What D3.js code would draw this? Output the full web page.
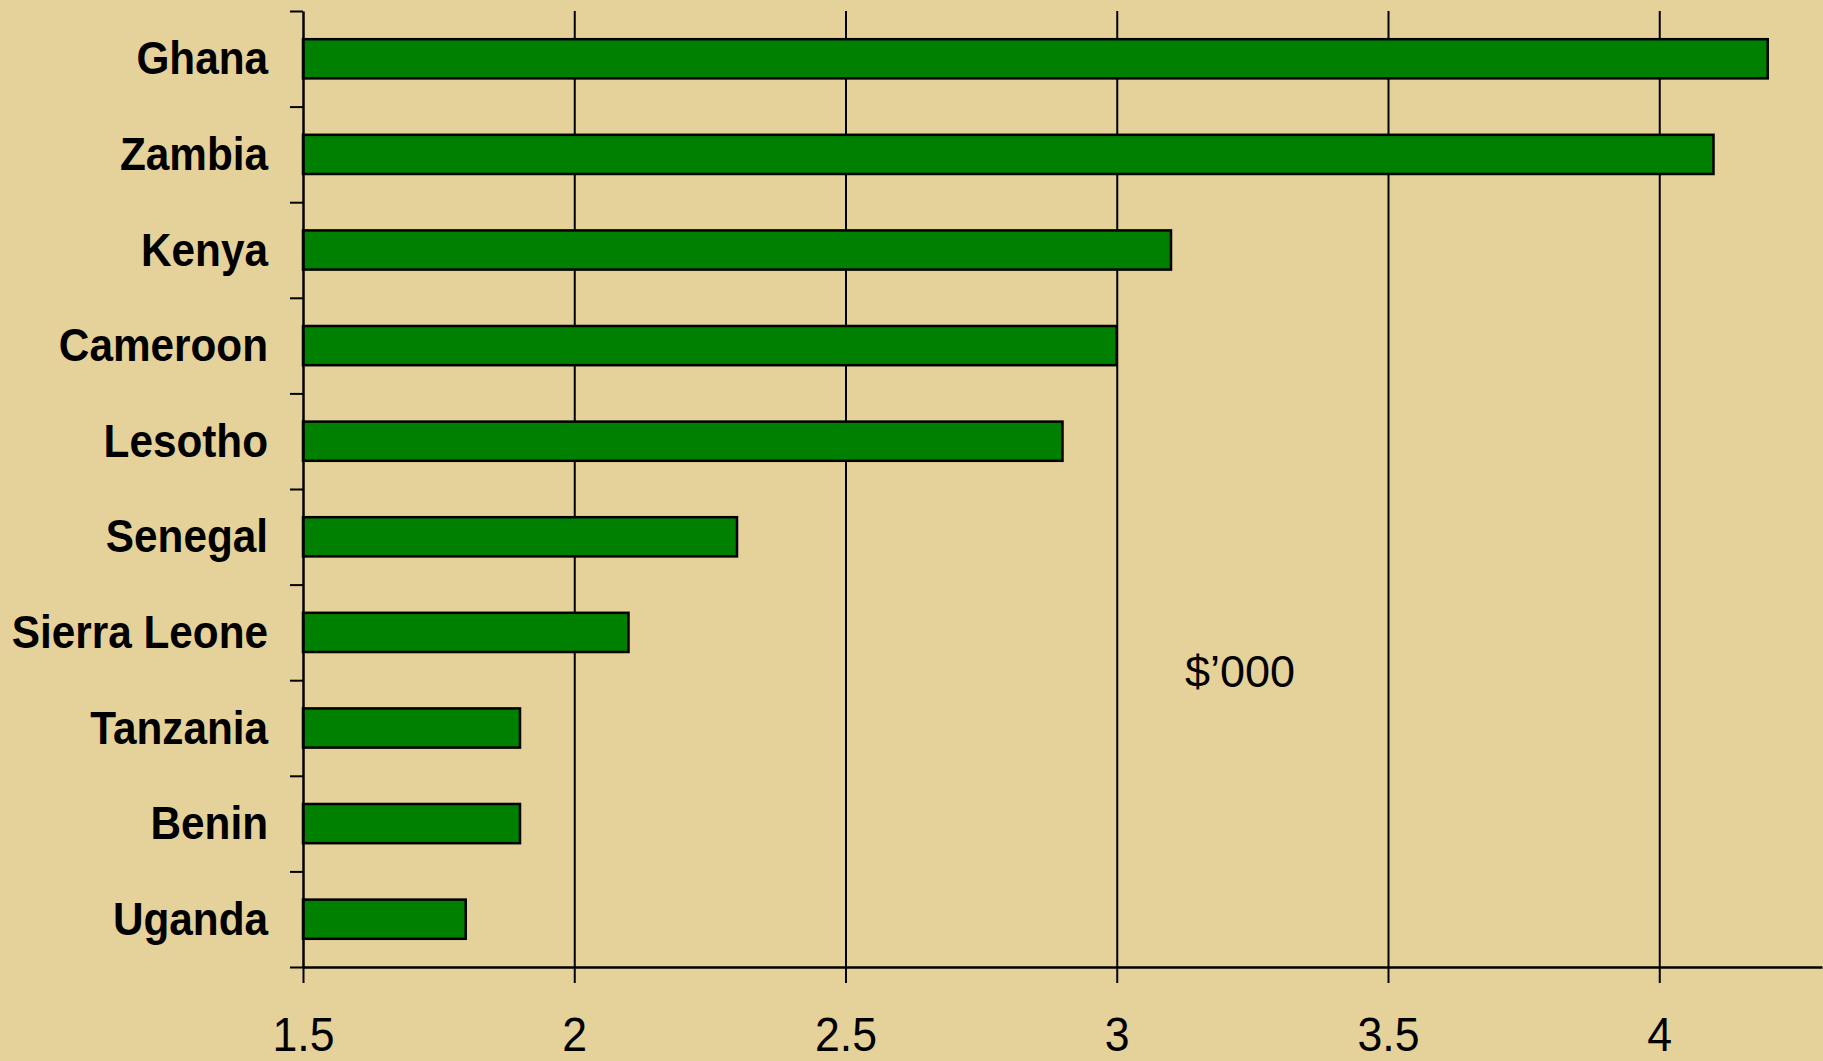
<!DOCTYPE html>
<html>
<head>
<meta charset="utf-8">
<script src="https://cdn.jsdelivr.net/npm/d3@7"></script>
<style>
  html, body { margin: 0; padding: 0; background: #E5D19A; }
  svg { display: block; }
</style>
</head>
<body>
<script>
// country names, top to bottom
const countries = ["Ghana", "Zambia", "Kenya", "Cameroon", "Lesotho", "Senegal",
                   "Sierra Leone", "Tanzania", "Benin", "Uganda"];
// values in $'000
const values = [4.2, 4.1, 3.1, 3.0, 2.9, 2.3, 2.1, 1.9, 1.9, 1.8];
const xTicks = [1.5, 2, 2.5, 3, 3.5, 4];
const unitLabel = "$\u2019000";

const W = 1823, H = 1061;
const margin = {top: 11, left: 303};
const plotH = 956;          // bottom axis sits at ~967
const bottom = margin.top + plotH;
const squeeze = 0.9;        // the original font is a bit narrower than Arial

const svg = d3.select("body").append("svg")
  .attr("width", W)
  .attr("height", H);

svg.append("rect")
  .attr("width", W).attr("height", H)
  .attr("fill", "#E5D19A");

// x scale
const x = d3.scaleLinear()
  .domain([1.5, 4.3])
  .range([margin.left, margin.left + 542.5 * 2.8]);

// category band scale
const y = d3.scaleBand()
  .domain(countries)
  .range([margin.top, bottom])
  .paddingInner(0.59)
  .paddingOuter(0.295);

// boundary positions for the left ticks
const yEdge = d3.scaleLinear()
  .domain([0, countries.length])
  .range([margin.top, bottom]);

// vertical gridlines (drawn first so bars sit on top)
svg.append("g")
  .attr("transform", "translate(0," + bottom + ")")
  .call(d3.axisBottom(x).tickValues(xTicks.slice(1)).tickSize(-plotH).tickFormat(""))
  .call(g => g.select(".domain").remove())
  .call(g => g.selectAll("line").attr("stroke", "#000").attr("stroke-width", 2));

// bars
const data = countries.map((c, i) => ({name: c, value: values[i]}));
svg.selectAll("rect.bar")
  .data(data)
  .enter()
  .append("rect")
  .attr("class", "bar")
  .attr("x", x(1.5))
  .attr("y", d => y(d.name))
  .attr("width", d => x(d.value) - x(1.5))
  .attr("height", y.bandwidth())
  .attr("fill", "#008000")
  .attr("stroke", "#000")
  .attr("stroke-width", 2.5);

// x axis
const xAxis = svg.append("g")
  .attr("transform", "translate(0," + bottom + ")")
  .call(d3.axisBottom(x).tickValues(xTicks).tickSizeInner(16).tickSizeOuter(0)
        .tickFormat(d3.format("")));
xAxis.select(".domain").attr("stroke", "#000").attr("stroke-width", 2.5);
xAxis.selectAll("line").attr("stroke", "#000").attr("stroke-width", 2);
xAxis.selectAll("text")
  .attr("y", 84)
  .attr("dy", 0)
  .attr("transform", "scale(0.93,1)")
  .attr("fill", "#000")
  .attr("font-family", "'Liberation Sans', Arial, sans-serif")
  .attr("font-size", 48);

// y axis line + boundary ticks
const yAxis = svg.append("g")
  .attr("transform", "translate(" + margin.left + ",0)")
  .call(d3.axisLeft(yEdge).tickValues(d3.range(countries.length + 1))
        .tickSizeInner(13).tickSizeOuter(0).tickFormat(""));
yAxis.select(".domain").attr("stroke", "#000").attr("stroke-width", 2.5);
yAxis.selectAll("line").attr("stroke", "#000").attr("stroke-width", 2);

// category labels
const yLabels = svg.append("g")
  .attr("transform", "translate(" + margin.left + ",0)")
  .call(d3.axisLeft(y).tickSize(0).tickPadding(36));
yLabels.select(".domain").remove();
yLabels.selectAll("text")
  .attr("x", -35 / squeeze)
  .attr("dy", "0.33em")
  .attr("transform", "scale(" + squeeze + ",1)")
  .attr("fill", "#000")
  .attr("font-weight", "bold")
  .attr("font-family", "'Liberation Sans', Arial, sans-serif")
  .attr("font-size", 47);

// unit label
svg.append("text")
  .attr("x", 1185)
  .attr("y", 687)
  .attr("font-family", "'Liberation Sans', Arial, sans-serif")
  .attr("font-size", 45)
  .attr("fill", "#000")
  .text(unitLabel);
</script>
</body>
</html>
